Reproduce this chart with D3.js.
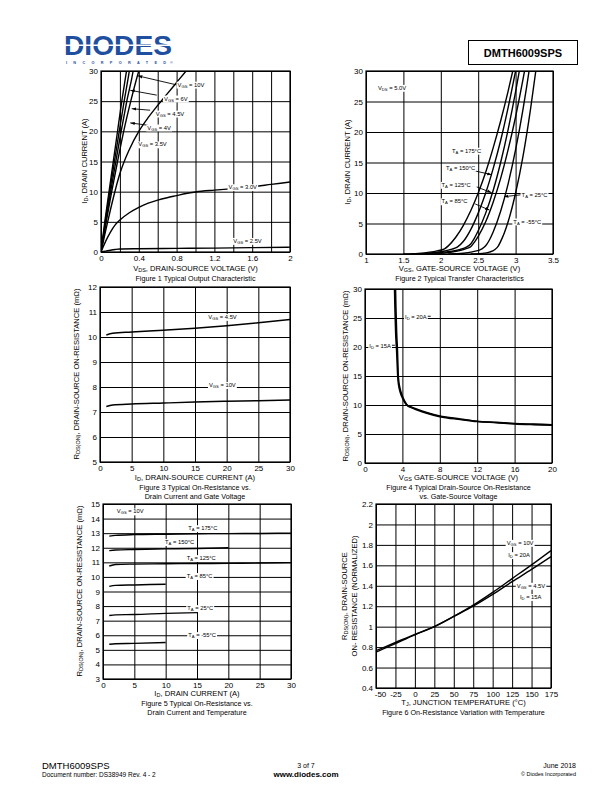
<!DOCTYPE html>
<html><head><meta charset="utf-8">
<script src="https://cdn.jsdelivr.net/npm/d3@7"></script>
<style>
body{margin:0;background:#fff;}
svg{display:block;font-family:"Liberation Sans",Arial,sans-serif;}
</style></head>
<body>
<svg id="page" width="612" height="792"></svg>
<script>
// ---------------- DATA ----------------
// Figure 1: Typical Output Characteristic  [VDS (V), ID (A)]
const f1Vgs10  = [[0,0],[0.04,5],[0.085,10],[0.13,15],[0.175,20],[0.22,25],[0.27,30],[0.28,31]];
const f1Vgs6   = [[0,0],[0.045,5],[0.092,10],[0.142,15],[0.193,20],[0.245,25],[0.30,30],[0.31,31]];
const f1Vgs45  = [[0,0],[0.05,5],[0.102,10],[0.157,15],[0.213,20],[0.273,25],[0.34,30],[0.35,31]];
const f1Vgs4   = [[0,0],[0.055,5],[0.113,10],[0.175,15],[0.24,20],[0.315,25],[0.40,30],[0.42,31]];
const f1Vgs35  = [[0,0],[0.05,3.6],[0.1,7],[0.15,10.2],[0.2,13],[0.3,17],[0.4,20],[0.5,22.3],[0.6,24.3],[0.7,26.2],[0.8,28.1],[0.9,30],[0.95,31]];
const f1Vgs3   = [[0,0],[0.05,1.8],[0.1,3.3],[0.15,4.5],[0.2,5.3],[0.3,6.5],[0.4,7.4],[0.5,8.1],[0.6,8.6],[0.7,9.0],[0.8,9.35],[0.9,9.7],[1.0,9.95],[1.2,10.25],[1.4,10.5],[1.6,10.8],[1.8,11.2],[2.0,11.6]];
const f1Vgs25  = [[0,0],[0.05,0.15],[0.1,0.3],[0.15,0.42],[0.2,0.5],[0.4,0.55],[0.8,0.6],[1.2,0.65],[1.6,0.72],[2.0,0.8]];
const f1XTicks = [0,0.4,0.8,1.2,1.6,2];
const f1YTicks = [0,5,10,15,20,25,30];

// Figure 2: Typical Transfer Characteristics  [VGS (V), ID (A)]
const f2T175 = [[1.5,0],[1.7,0.1],[1.85,0.3],[1.95,0.52],[2.05,0.85],[2.1,1.33],[2.2,2.74],[2.3,4.66],[2.4,7.08],[2.5,10.0],[2.6,13.4],[2.7,17.4],[2.8,21.8],[2.9,26.7],[2.96,29.9],[2.98,31]];
const f2T150 = [[1.6,0],[1.8,0.1],[1.95,0.28],[2.05,0.5],[2.15,0.8],[2.22,1.12],[2.3,2.04],[2.4,4.0],[2.5,6.7],[2.6,10.0],[2.7,14.0],[2.8,18.6],[2.9,24.0],[3.0,30.0],[3.02,31.2]];
const f2T125 = [[1.7,0],[1.9,0.12],[2.05,0.3],[2.15,0.45],[2.25,0.72],[2.33,1.05],[2.4,1.65],[2.45,2.6],[2.5,3.8],[2.6,6.7],[2.7,10.4],[2.8,15.0],[2.9,20.4],[3.0,26.6],[3.05,30.0],[3.07,31.3]];
const f2T85  = [[1.85,0],[2.0,0.1],[2.15,0.3],[2.25,0.55],[2.33,0.85],[2.4,1.2],[2.45,1.95],[2.5,2.9],[2.6,5.3],[2.7,8.5],[2.8,12.4],[2.9,17.1],[3.0,22.5],[3.1,28.7],[3.14,31.4]];
const f2T25  = [[2.1,0],[2.3,0.12],[2.42,0.35],[2.55,0.85],[2.6,1.35],[2.65,2.3],[2.7,3.6],[2.8,7.0],[2.9,11.5],[3.0,17.1],[3.1,23.8],[3.18,30.0],[3.2,31.7]];
const f2Tm55 = [[2.4,0],[2.55,0.1],[2.65,0.32],[2.72,0.7],[2.77,1.35],[2.82,2.6],[2.85,3.5],[2.9,5.3],[3.0,10.0],[3.1,16.1],[3.2,23.8],[3.27,30.0],[3.29,31.9]];
const f2XTicks = [1,1.5,2,2.5,3,3.5];
const f2YTicks = [0,5,10,15,20,25,30];

// Figure 3: On-Resistance vs Drain Current and Gate Voltage [ID (A), RDS (mOhm)]
const f3Vgs45 = [[1,10.08],[2,10.15],[5,10.2],[10,10.27],[15,10.35],[20,10.45],[25,10.57],[30,10.7]];
const f3Vgs10 = [[1,7.22],[2,7.28],[5,7.32],[10,7.36],[15,7.4],[20,7.43],[25,7.45],[30,7.48]];
const f3XTicks = [0,5,10,15,20,25,30];
const f3YTicks = [5,6,7,8,9,10,11,12];

// Figure 4: RDS(on) vs Gate-Source Voltage [VGS (V), RDS (mOhm)]
const f4Id20 = [[3.25,31],[3.3,27],[3.38,22.5],[3.46,19.8],[3.57,14.7],[3.75,12.8],[3.93,11.8],[4.2,10.8],[4.46,10.1],[5.0,9.6],[5.5,9.3],[6.6,8.7],[8,8.1],[10.2,7.6],[12,7.2],[14.1,7.0],[16,6.8],[18,6.7],[20,6.6]];
const f4Id15 = [[3.15,31],[3.2,27],[3.28,22.5],[3.38,19.5],[3.52,14.5],[3.7,12.6],[3.9,11.6],[4.2,10.6],[4.46,10.0],[5.0,9.5],[5.5,9.2],[6.6,8.6],[8,8.0],[10.2,7.5],[12,7.15],[14.1,6.95],[16,6.75],[18,6.62],[20,6.52]];
const f4XTicks = [0,4,8,12,16,20];
const f4YTicks = [0,5,10,15,20,25,30];

// Figure 5: On-Resistance vs Drain Current and Temperature [ID (A), RDS (mOhm)]
const f5T175 = [[1,12.8],[2,12.85],[5,12.9],[10,12.93],[15,12.96],[20,12.97],[25,12.98],[30,13.0]];
const f5T150 = [[1,11.8],[2,11.85],[5,11.88],[10,11.92],[15,11.95],[20,12.0]];
const f5T125 = [[1,10.75],[2,10.85],[5,10.88],[10,10.9],[15,10.92],[20,10.93],[25,10.95],[30,10.98]];
const f5T85  = [[1,9.35],[2,9.42],[5,9.45],[10,9.5]];
const f5T25  = [[1,7.35],[2,7.4],[5,7.42],[10,7.5],[15,7.55]];
const f5Tm55 = [[1,5.38],[2,5.42],[5,5.44],[10,5.5]];
const f5XTicks = [0,5,10,15,20,25,30];
const f5YTicks = [3,4,5,6,7,8,9,10,11,12,13,14,15];

// Figure 6: On-Resistance Variation with Temperature [TJ (C), normalized RDS]
const f6Vgs10 = [[-50,0.765],[-25,0.845],[0,0.925],[25,1.0],[50,1.1],[75,1.21],[100,1.335],[125,1.47],[150,1.605],[175,1.745]];
const f6Vgs45 = [[-50,0.75],[-25,0.835],[0,0.92],[25,1.0],[50,1.1],[75,1.2],[100,1.315],[125,1.44],[150,1.56],[175,1.685]];
const f6XTicks = [-50,-25,0,25,50,75,100,125,150,175];
const f6YTicks = [0.4,0.6,0.8,1,1.2,1.4,1.6,1.8,2,2.2];

// ---------------- DRAWING ----------------
const svg = d3.select('#page');
svg.append('rect').attr('width',612).attr('height',792).attr('fill','#fff');
const defs = svg.append('defs');
defs.append('marker').attr('id','arr').attr('viewBox','0 0 10 10').attr('refX',10).attr('refY',5)
  .attr('markerWidth',5).attr('markerHeight',5).attr('orient','auto')
  .append('path').attr('d','M0,1.5L10,5L0,8.5Z').attr('fill','#000');

const plain = d => String(+(+d).toFixed(2));

// rich text: "I_{D}" => subscript
function rich(textSel, str, size){
  const re = /_\{([^}]*)\}/g;
  let last = 0, m;
  while((m = re.exec(str)) !== null){
    if(m.index > last) textSel.append('tspan').text(str.slice(last, m.index));
    textSel.append('tspan').attr('font-size', size*0.72).attr('baseline-shift','-22%').text(m[1]);
    last = re.lastIndex;
  }
  if(last < str.length) textSel.append('tspan').text(str.slice(last));
  return textSel;
}

let clipId = 0;
function chart(c){
  const g = svg.append('g');
  const x = d3.scaleLinear().domain(c.xd).range([c.l, c.r]);
  const y = d3.scaleLinear().domain(c.yd).range([c.b, c.t]);
  // grid
  const gx = g.append('g').attr('transform',`translate(0,${c.b})`)
    .call(d3.axisBottom(x).tickValues(c.xGrid).tickSize(-(c.b-c.t)).tickFormat(''));
  const gy = g.append('g').attr('transform',`translate(${c.l},0)`)
    .call(d3.axisLeft(y).tickValues(c.yGrid).tickSize(-(c.r-c.l)).tickFormat(''));
  [gx,gy].forEach(s=>{ s.select('.domain').remove(); s.selectAll('line').attr('stroke','#000').attr('stroke-width',1); });
  g.append('rect').attr('x',c.l).attr('y',c.t).attr('width',c.r-c.l).attr('height',c.b-c.t)
    .attr('fill','none').attr('stroke','#000').attr('stroke-width',1.2);
  // tick labels
  const ax = g.append('g').attr('transform',`translate(0,${c.b})`)
    .call(d3.axisBottom(x).tickValues(c.xTicks).tickSize(0).tickPadding(c.xPad||3).tickFormat(plain));
  const ay = g.append('g').attr('transform',`translate(${c.l},0)`)
    .call(d3.axisLeft(y).tickValues(c.yTicks).tickSize(0).tickPadding(c.yPad||3).tickFormat(plain));
  [ax,ay].forEach(s=>{ s.select('.domain').remove(); s.selectAll('text').attr('font-size',8).attr('font-family','"Liberation Sans",Arial,sans-serif').attr('fill','#000'); });
  if(c.xFirstShift) ax.selectAll('text').filter((d,i)=>i===0).attr('dx',c.xFirstShift);
  // clip
  const id = 'clip'+(clipId++);
  defs.append('clipPath').attr('id',id).append('rect').attr('x',c.l).attr('y',c.t).attr('width',c.r-c.l).attr('height',c.b-c.t);
  const data = g.append('g').attr('clip-path',`url(#${id})`);
  const line = d3.line().x(d=>x(d[0])).y(d=>y(d[1])).curve(d3.curveMonotoneX);
  c.series.forEach(s=>{
    data.append('path').datum(s).attr('d',line).attr('fill','none').attr('stroke','#000')
      .attr('stroke-width',c.sw||1.4).attr('stroke-linejoin','round');
  });
  // axis titles
  const xt = g.append('text').attr('x',(c.l+c.r)/2 + (c.xtDx||0)).attr('y',c.xtY).attr('text-anchor','middle').attr('font-size',7.6);
  rich(xt, c.xTitle, 7.6);
  c.yTitles.forEach((t,i)=>{
    const yt = g.append('text').attr('transform',`translate(${c.ytX[i]},${c.ytCy}) rotate(-90)`).attr('text-anchor','middle').attr('font-size',7.6);
    rich(yt, t, 7.6);
  });
  c.captions.forEach((t,i)=>{
    g.append('text').attr('x',(c.l+c.r)/2 + (c.xtDx||0)).attr('y',c.capY + i*9.2).attr('text-anchor','middle').attr('font-size',7.2).text(t);
  });
  // annotations
  const ann = g.append('g');
  (c.arrows||[]).forEach(a=>{
    ann.append('line').attr('x1',x(a[0])).attr('y1',y(a[1])).attr('x2',x(a[2])).attr('y2',y(a[3]))
      .attr('stroke','#000').attr('stroke-width',0.9).attr('marker-end', a[4]===false ? null : 'url(#arr)');
  });
  (c.labels||[]).forEach(lb=>{
    const t = ann.append('text').attr('x',x(lb[1])).attr('y',y(lb[2])).attr('font-size',5.8);
    rich(t, lb[0], 5.8);
    const bb = t.node().getBBox();
    ann.insert('rect', function(){ return t.node(); })
      .attr('x',bb.x-1).attr('y',bb.y).attr('width',bb.width+2).attr('height',bb.height).attr('fill','#fff');
  });
  return {x,y,g};
}

const seq = (a,b,s)=>d3.range(a, b + s/2, s);

// Figure 1
chart({l:101,r:290,t:71,b:252,xd:[0,2],yd:[0,30],
  xGrid:seq(0,2,0.2),yGrid:seq(0,30,5),xTicks:f1XTicks,yTicks:f1YTicks,
  series:[f1Vgs10,f1Vgs6,f1Vgs45,f1Vgs4,f1Vgs35,f1Vgs3,f1Vgs25],
  xTitle:'V_{DS}, DRAIN-SOURCE VOLTAGE (V)', xtY:271,
  yTitles:['I_{D}, DRAIN CURRENT (A)'], ytX:[87], ytCy:161,
  captions:['Figure 1 Typical Output Characteristic'], capY:281,
  arrows:[[0.80,27.7,0.39,29.2],[0.59,26.0,0.31,26.8],[0.52,23.5,0.325,23.75],[0.50,21.0,0.31,21.4]],
  labels:[['V_{GS} = 10V',0.81,27.4],['V_{GS} = 6V',0.667,25.1],['V_{GS} = 4.5V',0.58,22.6],['V_{GS} = 4V',0.49,20.3],
          ['V_{GS} = 3.5V',0.395,17.5],['V_{GS} = 3.0V',1.35,10.4],['V_{GS} = 2.5V',1.40,1.5]]
});

// Figure 2
chart({l:366,r:553,t:71,b:254,xd:[1,3.5],yd:[0,30],
  xGrid:seq(1,3.5,0.5),yGrid:seq(0,30,5),xTicks:f2XTicks,yTicks:f2YTicks,
  series:[f2T175,f2T150,f2T125,f2T85,f2T25,f2Tm55],
  xTitle:'V_{GS}, GATE-SOURCE VOLTAGE (V)', xtY:271,
  yTitles:['I_{D}, DRAIN CURRENT (A)'], ytX:[350], ytCy:162,
  captions:['Figure 2 Typical Transfer Characteristics'], capY:281,
  arrows:[[2.39,13.8,2.68,13.0],[2.48,11.0,2.68,10.05],[2.46,8.2,2.65,7.2],[3.07,9.7,2.845,9.4]],
  labels:[['V_{DS} = 5.0V',1.16,26.9],['T_{A} = 175°C',2.15,16.6],['T_{A} = 150°C',2.07,13.8],['T_{A} = 125°C',2.01,11.0],
          ['T_{A} = 85°C',2.01,8.3],['T_{A} = 25°C',3.08,9.4],['T_{A} = -55°C',2.97,5.0]]
});

// Figure 3
chart({l:100,r:290,t:287,b:462,xd:[0,30],yd:[5,12],
  xGrid:seq(0,30,5),yGrid:seq(5,12,1),xTicks:f3XTicks,yTicks:f3YTicks,
  series:[f3Vgs45,f3Vgs10],
  xTitle:'I_{D}, DRAIN-SOURCE CURRENT (A)', xtY:480,
  yTitles:['R_{DS(ON)}, DRAIN-SOURCE ON-RESISTANCE (mΩ)'], ytX:[79], ytCy:374,
  captions:['Figure 3 Typical On-Resistance vs.','Drain Current and Gate Voltage'], capY:489.5,
  labels:[['V_{GS} = 4.5V',17.1,10.72],['V_{GS} = 10V',17.2,8.0]]
});

// Figure 4
chart({l:365,r:552,t:289,b:463,xd:[0,20],yd:[0,30],
  xGrid:seq(0,20,4),yGrid:seq(0,30,5),xTicks:f4XTicks,yTicks:f4YTicks,
  series:[f4Id20,f4Id15], sw:1.6,
  xTitle:'V_{GS} GATE-SOURCE VOLTAGE (V)', xtY:480,
  yTitles:['R_{DS(ON)}, DRAIN-SOURCE ON-RESISTANCE (mΩ)'], ytX:[348], ytCy:376,
  captions:['Figure 4 Typical Drain-Source On-Resistance','vs. Gate-Source Voltage'], capY:489.5,
  arrows:[[6.06,25.3,7.03,25.3,false],[1.42,20.3,3.2,20.3,false]],
  labels:[['I_{D} = 20A',4.28,24.8],['I_{D} = 15A',0.46,19.9]]
});

// Figure 5
chart({l:103,r:291,t:504,b:679,xd:[0,30],yd:[3,15],
  xGrid:seq(0,30,5),yGrid:seq(3,15,1),xTicks:f5XTicks,yTicks:f5YTicks,
  series:[f5T175,f5T150,f5T125,f5T85,f5T25,f5Tm55],
  xTitle:'I_{D}, DRAIN CURRENT (A)', xtY:696,
  yTitles:['R_{DS(ON)}, DRAIN-SOURCE ON-RESISTANCE (mΩ)'], ytX:[82], ytCy:591,
  captions:['Figure 5 Typical On-Resistance vs.','Drain Current and Temperature'], capY:706,
  labels:[['V_{GS} = 10V',2.2,14.35],['T_{A} = 175°C',13.6,13.2],['T_{A} = 150°C',9.9,12.25],['T_{A} = 125°C',13.35,11.15],
          ['T_{A} = 85°C',13.35,9.92],['T_{A} = 25°C',13.45,7.72],['T_{A} = -55°C',13.6,5.87]]
});

// Figure 6
chart({l:376,r:551,t:504,b:688,xd:[-50,175],yd:[0.4,2.2],
  xGrid:seq(-50,175,25),yGrid:seq(0.4,2.2,0.2),xTicks:f6XTicks,yTicks:f6YTicks, xFirstShift:4,
  series:[f6Vgs10,f6Vgs45],
  xTitle:'T_{J}, JUNCTION TEMPERATURE (°C)', xtY:705,
  yTitles:['R_{DS(ON)}, DRAIN-SOURCE','ON- RESISTANCE (NORMALIZED)'], ytX:[347,357], ytCy:596,
  captions:['Figure 6 On-Resistance Variation with Temperature'], capY:715, xtDx:0,
  labels:[['V_{GS} = 10V',118,1.80],['I_{D} = 20A',120,1.68],['V_{GS} = 4.5V',131,1.38],['I_{D} = 15A',135,1.27]]
});

// ---------------- HEADER ----------------
const logo = svg.append('g');
logo.append('text').attr('x',64).attr('y',54.5).attr('font-size',27).attr('font-weight',900)
  .attr('font-family','"Liberation Sans",Arial,sans-serif').attr('fill','#1f4f9e')
  .attr('textLength',108).attr('lengthAdjust','spacingAndGlyphs').text('DIODES');
logo.append('rect').attr('x',64).attr('y',44.5).attr('width',109).attr('height',1.5).attr('fill','#fff');
logo.append('text').attr('x',66).attr('y',64).attr('font-size',3.8).attr('font-weight',700).attr('fill','#1f4f9e')
  .attr('textLength',100).attr('lengthAdjust','spacing').text('INCORPORATED');
logo.append('text').attr('x',170).attr('y',64).attr('font-size',3.8).attr('fill','#1f4f9e').text('®');

svg.append('rect').attr('x',468.5).attr('y',40.5).attr('width',109).attr('height',24).attr('fill','none').attr('stroke','#000').attr('stroke-width',1);
svg.append('text').attr('x',523).attr('y',56.5).attr('text-anchor','middle').attr('font-size',11).attr('font-weight',700).text('DMTH6009SPS');

// ---------------- FOOTER ----------------
svg.append('text').attr('x',42).attr('y',769).attr('font-size',9.5).text('DMTH6009SPS');
svg.append('text').attr('x',42).attr('y',777).attr('font-size',6.5).text('Document number: DS38949  Rev. 4 - 2');
svg.append('text').attr('x',306).attr('y',768).attr('text-anchor','middle').attr('font-size',7).text('3 of 7');
svg.append('text').attr('x',306).attr('y',777).attr('text-anchor','middle').attr('font-size',8).attr('font-weight',700).text('www.diodes.com');
svg.append('text').attr('x',576).attr('y',768).attr('text-anchor','end').attr('font-size',7).text('June 2018');
svg.append('text').attr('x',576).attr('y',775.5).attr('text-anchor','end').attr('font-size',5.5).text('© Diodes Incorporated');
</script>
</body></html>
